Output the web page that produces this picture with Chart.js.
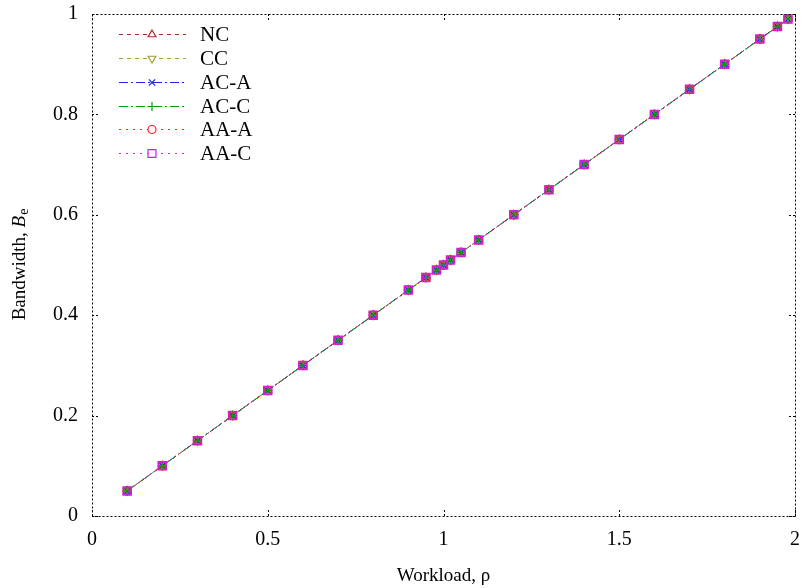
<!DOCTYPE html>
<html>
<head>
<meta charset="utf-8">
<script src="https://cdn.jsdelivr.net/npm/chart.js@4"></script>
<style>
  html, body { margin: 0; padding: 0; background: #fff; }
  #wrap { width: 808px; height: 588px; }
</style>
</head>
<body>
<div id="wrap"><canvas id="bwChart" width="808" height="588"></canvas></div>
<script>
// workload values (x)
const workload = [0.1, 0.2, 0.3, 0.4, 0.5, 0.6, 0.7, 0.8, 0.9, 0.95, 0.98, 1.0, 1.02, 1.05,
                  1.1, 1.2, 1.3, 1.4, 1.5, 1.6, 1.7, 1.8, 1.9, 1.95, 1.98];
// effective bandwidth per policy (all curves overlap)
const ncBw  = [0.05, 0.1, 0.15, 0.2, 0.25, 0.3, 0.35, 0.4, 0.45, 0.475, 0.49, 0.5, 0.51, 0.525,
               0.55, 0.6, 0.65, 0.7, 0.75, 0.8, 0.85, 0.9, 0.95, 0.975, 0.99];
const ccBw  = [0.05, 0.1, 0.15, 0.2, 0.25, 0.3, 0.35, 0.4, 0.45, 0.475, 0.49, 0.5, 0.51, 0.525,
               0.55, 0.6, 0.65, 0.7, 0.75, 0.8, 0.85, 0.9, 0.95, 0.975, 0.99];
const acaBw = [0.05, 0.1, 0.15, 0.2, 0.25, 0.3, 0.35, 0.4, 0.45, 0.475, 0.49, 0.5, 0.51, 0.525,
               0.55, 0.6, 0.65, 0.7, 0.75, 0.8, 0.85, 0.9, 0.95, 0.975, 0.99];
const accBw = [0.05, 0.1, 0.15, 0.2, 0.25, 0.3, 0.35, 0.4, 0.45, 0.475, 0.49, 0.5, 0.51, 0.525,
               0.55, 0.6, 0.65, 0.7, 0.75, 0.8, 0.85, 0.9, 0.95, 0.975, 0.99];
const aaaBw = [0.05, 0.1, 0.15, 0.2, 0.25, 0.3, 0.35, 0.4, 0.45, 0.475, 0.49, 0.5, 0.51, 0.525,
               0.55, 0.6, 0.65, 0.7, 0.75, 0.8, 0.85, 0.9, 0.95, 0.975, 0.99];
const aacBw = [0.05, 0.1, 0.15, 0.2, 0.25, 0.3, 0.35, 0.4, 0.45, 0.475, 0.49, 0.5, 0.51, 0.525,
               0.55, 0.6, 0.65, 0.7, 0.75, 0.8, 0.85, 0.9, 0.95, 0.975, 0.99];

const seriesNames = ['NC', 'CC', 'AC-A', 'AC-C', 'AA-A', 'AA-C'];
const xTicks = [0, 0.5, 1, 1.5, 2];
const yTicks = [0, 0.2, 0.4, 0.6, 0.8, 1];

const FONT = '"Liberation Serif", "Times New Roman", serif';

function pts(ys) {
    return workload.map((x, i) => ({ x: x, y: ys[i] }));
}

const styles = [
    { color: '#a52a2a', dash: [4, 4], point: 'triangle', rot: 0, r: 4.5 },
    { color: '#a0a030', dash: [4, 4], point: 'triangle', rot: 180, r: 4.5 },
    { color: '#2020ff', dash: [9, 3, 2, 3], point: 'crossRot', rot: 0, r: 4.5 },
    { color: '#00a000', dash: [9, 3, 2, 3], point: 'cross', rot: 0, r: 4.5 },
    { color: '#ff2020', dash: [2, 5], point: 'circle', rot: 0, r: 4 },
    { color: '#d020d0', dash: [2, 5], point: 'rect', rot: 0, r: 5.6 }
];
const allBw = [ncBw, ccBw, acaBw, accBw, aaaBw, aacBw];

const datasets = seriesNames.map((name, i) => ({
    label: name,
    data: pts(allBw[i]),
    borderColor: styles[i].color,
    backgroundColor: 'rgba(0,0,0,0)',
    borderWidth: 1,
    borderDash: styles[i].dash,
    pointStyle: styles[i].point,
    rotation: styles[i].rot,
    pointRadius: styles[i].r,
    pointBorderColor: styles[i].color,
    pointBackgroundColor: 'rgba(0,0,0,0)',
    pointBorderWidth: i === 5 ? 1.6 : 1.2,
    order: 6 - i
}));

// gnuplot-like dotted border, inward ticks, legend and axis titles
const framePlugin = {
    id: 'frame',
    afterDraw(chart) {
        const ctx = chart.ctx;
        const a = chart.chartArea;
        const xs = chart.scales.x, ys = chart.scales.y;
        ctx.save();
        ctx.strokeStyle = '#000';
        ctx.lineWidth = 1;
        ctx.setLineDash([2, 2]);
        ctx.strokeRect(a.left + 0.5, a.top + 0.5, a.right - a.left, a.bottom - a.top);
        // inward ticks
        xTicks.forEach(v => {
            const px = Math.round(xs.getPixelForValue(v)) + 0.5;
            ctx.beginPath();
            ctx.moveTo(px, a.bottom); ctx.lineTo(px, a.bottom - 6);
            ctx.moveTo(px, a.top); ctx.lineTo(px, a.top + 6);
            ctx.stroke();
        });
        yTicks.forEach(v => {
            const py = Math.round(ys.getPixelForValue(v)) + 0.5;
            ctx.beginPath();
            ctx.moveTo(a.left, py); ctx.lineTo(a.left + 6, py);
            ctx.moveTo(a.right, py); ctx.lineTo(a.right - 6, py);
            ctx.stroke();
        });

        // legend
        const rowY = [34, 58, 82, 106, 129, 153];
        chart.data.datasets.forEach((ds, i) => {
            const y = rowY[i] + 0.5;
            ctx.setLineDash(ds.borderDash);
            ctx.strokeStyle = ds.borderColor;
            ctx.lineWidth = 1;
            ctx.beginPath();
            ctx.moveTo(119, y); ctx.lineTo(186, y);
            ctx.stroke();
            ctx.setLineDash([]);
            ctx.strokeStyle = ds.borderColor;
            ctx.fillStyle = '#fff';
            ctx.lineWidth = 1.2;
            Chart.helpers.drawPoint(ctx, {
                pointStyle: ds.pointStyle,
                rotation: ds.rotation,
                radius: ds.pointRadius,
                borderWidth: 1.2
            }, 152, y);
            ctx.fillStyle = '#000';
            ctx.font = '21px ' + FONT;
            ctx.textAlign = 'left';
            ctx.textBaseline = 'middle';
            ctx.fillText(ds.label, 200, y + 1);
        });

        // axis titles
        ctx.setLineDash([]);
        ctx.fillStyle = '#000';
        ctx.font = '19px ' + FONT;
        ctx.textAlign = 'center';
        ctx.textBaseline = 'middle';
        ctx.fillText('Workload, ρ', (a.left + a.right) / 2, 576);

        ctx.translate(20, (a.top + a.bottom) / 2);
        ctx.rotate(-Math.PI / 2);
        const p1 = 'Bandwidth, ';
        ctx.font = '19px ' + FONT;
        const w1 = ctx.measureText(p1).width;
        ctx.font = 'italic 19px ' + FONT;
        const w2 = ctx.measureText('B').width;
        ctx.font = '14px ' + FONT;
        const w3 = ctx.measureText('e').width;
        let x0 = -(w1 + w2 + w3) / 2;
        ctx.textAlign = 'left';
        ctx.font = '19px ' + FONT;
        ctx.fillText(p1, x0, 0);
        ctx.font = 'italic 19px ' + FONT;
        ctx.fillText('B', x0 + w1, 0);
        ctx.font = '14px ' + FONT;
        ctx.fillText('e', x0 + w1 + w2 + 1, 4);
        ctx.restore();
    }
};

const ctx = document.getElementById('bwChart').getContext('2d');
const chart = new Chart(ctx, {
    type: 'line',
    data: { datasets: datasets },
    options: {
        responsive: false,
        animation: false,
        layout: { padding: { top: 14, right: 13, left: 0, bottom: 0 } },
        plugins: {
            legend: { display: false },
            tooltip: { enabled: false }
        },
        scales: {
            x: {
                type: 'linear',
                min: 0, max: 2,
                afterFit: s => { s.height = 72; s.paddingLeft = 0; s.paddingRight = 0; },
                afterBuildTicks: s => { s.ticks = xTicks.map(v => ({ value: v })); },
                grid: { display: false, drawTicks: false },
                border: { display: false },
                ticks: {
                    color: '#000', font: { family: FONT, size: 20 }, padding: 12, maxRotation: 0,
                    callback: v => String(+v)
                }
            },
            y: {
                type: 'linear',
                min: 0, max: 1,
                afterFit: s => { s.width = 92; s.paddingTop = 0; s.paddingBottom = 0; },
                afterBuildTicks: s => { s.ticks = yTicks.map(v => ({ value: v })); },
                grid: { display: false, drawTicks: false },
                border: { display: false },
                ticks: {
                    color: '#000', font: { family: FONT, size: 20 }, padding: 14,
                    callback: v => String(+v)
                }
            }
        }
    },
    plugins: [framePlugin]
});
</script>
</body>
</html>
